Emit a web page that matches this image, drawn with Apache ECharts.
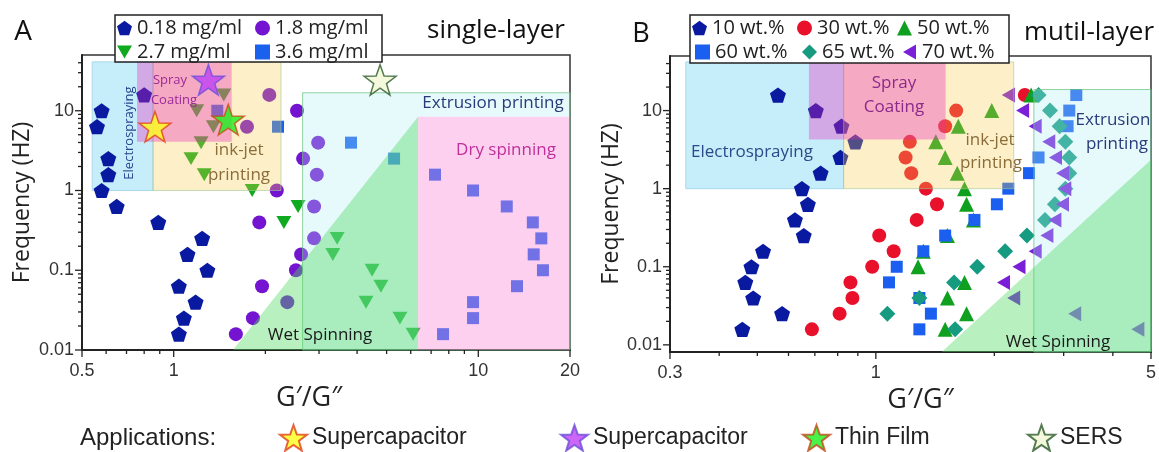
<!DOCTYPE html>
<html><head><meta charset="utf-8">
<script src="https://cdn.jsdelivr.net/npm/echarts@6/dist/echarts.min.js"></script>
<style>html,body{margin:0;padding:0;background:#fff}#c{width:1159px;height:452px}</style>
</head><body><div id="c"></div>
<script>
// ---------- tick labels ----------
const xTicksA = [0.5, 1, 10, 20];
const xTicksB = [0.3, 1, 5];
const yTicks = [0.01, 0.1, 1, 10];
const xMinorA = [0.6, 0.7, 0.8, 0.9, 2, 3, 4, 5, 6, 7, 8, 9];
const xMinorB = [0.4, 0.5, 0.6, 0.7, 0.8, 0.9, 2, 3, 4];
const yMinor = [0.02,0.03,0.04,0.05,0.06,0.07,0.08,0.09,0.2,0.3,0.4,0.5,0.6,0.7,0.8,0.9,2,3,4,5,6,7,8,9,20,30,40];

// ---------- frequencies (Hz) ----------
const freq = [15.8, 10, 6.31, 3.98, 2.51, 1.58, 1, 0.631, 0.398, 0.251, 0.158, 0.1, 0.0631, 0.0398, 0.0251, 0.0158];

// ---------- Panel A (single-layer) ----------
const a018X = [0.80, 0.58, 0.56, 0.61, 0.61, 0.58, 0.65, 0.89, 1.24, 1.11, 1.29, 1.04, 1.18, 1.08, 1.04];
const a018Y = [15.8, 10, 6.31, 2.51, 1.58, 1, 0.631, 0.398, 0.251, 0.158, 0.1, 0.0631, 0.0398, 0.0251, 0.0158];
const a18X  = [2.06, 2.54, 1.74, 2.98, 2.66, 2.95, 2.18, 2.89, 1.91, 2.89, 2.62, 2.52, 1.95, 2.36, 1.82, 1.60];
const a27X  = [1.46, 1.19, 1.35, 1.23, 1.14, 1.26, 1.81, 2.56, 2.30, 3.44, 3.33, 4.48, 4.79, 4.28, 5.53, 6.11];
const a36X  = [1.39, 2.20, 3.82, 5.29, 7.21, 9.61, 12.4, 15.1, 16.1, 15.2, 16.3, 13.4, 9.61, 9.61, 7.66];
const a36Y  = [10, 6.31, 3.98, 2.51, 1.58, 1, 0.631, 0.398, 0.251, 0.158, 0.1, 0.0631, 0.0398, 0.0251, 0.0158];

// application stars in panel A
const appIds = ['app-supercap-1', 'app-supercap-2', 'app-thinfilm', 'app-sers'];
const appLabels = ['Supercapacitor', 'Supercapacitor', 'Thin Film', 'SERS'];
const appX = [0.868, 1.30, 1.51, 4.76];
const appY = [6.3, 24.4, 7.7, 24.4];

// ---------- Panel B (multi-layer) ----------
const b10X = [0.564,0.704,0.818,0.887,0.813,0.724,0.649,0.672,0.623,0.656,0.517,0.483,0.466,0.488,0.578,0.458];
const b30X = [2.39,1.60,1.50,1.22,1.19,1.23,1.34,1.43,1.27,1.02,1.11,0.979,0.862,0.872,0.809,0.688];
const b50X = [2.48,1.97,1.62,1.42,1.50,1.61,1.68,1.70,1.77,1.52,1.32,1.28,1.68,1.52,1.70,1.50];
const b60X = [3.23,3.10,3.07,2.59,2.45,2.17,2.03,1.78,1.50,1.32,1.13,1.08,1.29,1.38,1.29];
const b60Y = [15.8,10,6.31,2.51,1.58,1,0.631,0.398,0.251,0.158,0.1,0.0631,0.0398,0.0251,0.0158];
const b65X = [2.59,2.77,2.93,3.03,3.10,3.10,3.03,2.85,2.69,2.42,2.13,1.81,1.58,1.29,1.07,1.59];
const b70X = [2.17,2.36,2.54,2.75,2.86,2.98,3.02,2.98,2.85,2.72,2.54,2.31,2.11,2.24,3.20,4.63];

// ---------- processing windows (x0, x1, y0, y1) in data units ----------
const electroA = [0.54, 0.855, 1, 41];
const inkjetA  = [0.855, 2.25, 1, 41];
const sprayA   = [0.758, 1.55, 4.1, 41];
const extrudeA = [2.65, 20, 0.01, 16.8];
const dryA     = [6.34, 20, 0.01, 8.4];
const wetA     = [[1.566, 0.01], [6.34, 8.4], [6.34, 0.01]];
const electroB = [0.329, 0.828, 1, 42];
const inkjetB  = [0.828, 2.24, 1, 42];
const sprayB   = [0.676, 1.504, 4.25, 42];
const extrudeB = [2.52, 5, 0.0081, 18.6];
const wetB     = [[1.47, 0.0081], [5, 2.35], [5, 0.0081]];

// ---------- helpers ----------
const FONT = '"Open Sans", "DejaVu Sans", sans-serif';
const APPF = '"Liberation Sans", Arial, sans-serif';
const pentagon = 'path://M50,0L97.6,34.5L79.4,90.5L20.6,90.5L2.4,34.5Z';
const star = 'path://M50,0L61.8,33.8L97.6,34.5L69,56.2L79.4,90.5L50,70L20.6,90.5L31,56.2L2.4,34.5L38.2,33.8Z';
const triDown = 'path://M0,0L100,0L50,86.6Z';
const triLeft = 'path://M0,50L86.6,0L86.6,100Z';
const zip = (xs, ys) => xs.map((x, i) => [x, ys[i]]);
const rectPts = r => [[r[0], r[2]], [r[1], r[2]], [r[1], r[3]], [r[0], r[3]]];
// extrusion window minus the dry-spinning window (so that window keeps its own tint)
const notch = (e, d) => [[e[0], e[2]], [d[0], e[2]], [d[0], d[3]], [e[1], d[3]], [e[1], e[3]], [e[0], e[3]]];

function region(gi, pts, fill, stroke, z) {
  return {
    type: 'custom', xAxisIndex: gi, yAxisIndex: gi, silent: true, z: z,
    data: [pts[0]],
    renderItem: (p, api) => ({
      type: 'polygon',
      shape: { points: pts.map(q => api.coord(q)) },
      style: { fill: fill, stroke: stroke || 'none', lineWidth: 1 }
    })
  };
}
function ticks(gi, axis, vals, edge, len) {
  return {
    type: 'custom', xAxisIndex: gi, yAxisIndex: gi, silent: true, clip: false, z: 6,
    data: vals.map(v => axis === 'x' ? [v, edge] : [edge, v]),
    renderItem: (p, api) => {
      const c = api.coord([api.value(0), api.value(1)]);
      const s = axis === 'x' ? { x1: c[0], y1: c[1], x2: c[0], y2: c[1] + len }
                             : { x1: c[0] - len, y1: c[1], x2: c[0], y2: c[1] };
      return { type: 'line', shape: s, style: { stroke: '#222', lineWidth: 1.3 } };
    }
  };
}
function fmt(list) {
  return v => {
    const m = list.find(t => Math.abs(Math.log10(v) - Math.log10(t)) < 1e-6);
    return m === undefined ? '' : String(m);
  };
}
function scatter(gi, name, data, symbol, size, color) {
  return {
    type: 'scatter', name: name, xAxisIndex: gi, yAxisIndex: gi, data: data,
    symbol: symbol, symbolSize: size, symbolKeepAspect: true,
    itemStyle: { color: color, opacity: 1 }, z: 2, silent: true
  };
}

const axisLine = { lineStyle: { color: '#222', width: 2 } };
const tickLabel = { fontSize: 18, color: '#333', fontFamily: APPF };

function xAxis(gi, min, max, labels, pad) {
  return {
    type: 'log', logBase: 10, gridIndex: gi, min: min, max: max,
    axisLine: axisLine, axisTick: { show: false }, splitLine: { show: false }, minorTick: { show: false },
    axisLabel: Object.assign({ formatter: fmt(labels), margin: 12, hideOverlap: false }, tickLabel),
    name: 'G\u2032/G\u2033', nameLocation: 'middle', nameGap: 32,
    nameTextStyle: { fontSize: 27, color: '#222', fontFamily: FONT, padding: pad }
  };
}
function yAxis(gi, min, gap) {
  return {
    type: 'log', logBase: 10, gridIndex: gi, min: min, max: 50,
    axisLine: axisLine, axisTick: { show: false }, splitLine: { show: false }, minorTick: { show: false },
    axisLabel: Object.assign({ formatter: fmt(yTicks), margin: 8, hideOverlap: false }, tickLabel),
    name: 'Frequency (HZ)', nameLocation: 'middle', nameGap: gap,
    nameTextStyle: { fontSize: 23, color: '#222', fontFamily: FONT }
  };
}

// colours for the windows
const C = {
  electro: '#c6eefa', electroLine: '#a9d9ea',
  inkjet: 'rgba(248,202,72,0.30)', inkjetLine: 'rgba(160,200,150,0.6)',
  spray: 'rgba(232,40,186,0.35)',
  extrude: 'rgba(172,238,245,0.30)', extrudeLine: 'rgba(110,195,130,0.75)',
  wet: 'rgba(78,217,98,0.40)',
  dry: 'rgba(250,137,217,0.40)'
};
const appStyles = [
  { color: '#ffff1a', borderColor: '#e0401a', borderWidth: 1.5 },
  { color: '#c040f4', borderColor: '#6a50d8', borderWidth: 1.5 },
  { color: '#1aef1a', borderColor: '#c84818', borderWidth: 1.5 },
  { color: '#f2f8d2', borderColor: '#2a5a2a', borderWidth: 1.5 }
];

const series = [
  region(0, rectPts(electroA), C.electro, C.electroLine, 1),
  region(1, rectPts(electroB), C.electro, C.electroLine, 1),
  scatter(0, '0.18 mg/ml', zip(a018X, a018Y), pentagon, 16, '#0a1aa0'),
  scatter(0, '1.8 mg/ml', zip(a18X, freq), 'circle', 14, '#7414d0'),
  scatter(0, '2.7 mg/ml', zip(a27X, freq), triDown, 15, '#10aa20'),
  scatter(0, '3.6 mg/ml', zip(a36X, a36Y), 'rect', 12, '#1a62ee'),
  scatter(1, '10 wt.%', zip(b10X, freq), pentagon, 16, '#0a1aa0'),
  scatter(1, '30 wt.%', zip(b30X, freq), 'circle', 14, '#e8102a'),
  scatter(1, '50 wt.%', zip(b50X, freq), 'triangle', 15, '#10a020'),
  scatter(1, '60 wt.%', zip(b60X, b60Y), 'rect', 12, '#1a5ff0'),
  scatter(1, '65 wt.%', zip(b65X, freq), 'diamond', 16, '#169a80'),
  scatter(1, '70 wt.%', zip(b70X, freq), triLeft, 15, '#7a1ed8'),
  region(0, rectPts(inkjetA), C.inkjet, C.inkjetLine, 3),
  region(0, notch(extrudeA, dryA), C.extrude, null, 3),
  region(0, rectPts(extrudeA), 'none', C.extrudeLine, 3),
  region(0, wetA, C.wet, null, 3),
  region(0, rectPts(dryA), C.dry, null, 3),
  region(0, rectPts(sprayA), C.spray, null, 3),
  region(1, rectPts(inkjetB), C.inkjet, C.inkjetLine, 3),
  region(1, rectPts(extrudeB), C.extrude, C.extrudeLine, 3),
  region(1, wetB, C.wet, null, 3),
  region(1, rectPts(sprayB), C.spray, null, 3),
  ticks(0, 'x', xTicksA, 0.01, 7), ticks(0, 'x', xMinorA, 0.01, 4),
  ticks(0, 'y', yTicks, 0.5, 7), ticks(0, 'y', yMinor, 0.5, 4),
  ticks(1, 'x', xTicksB, 0.0081, 7), ticks(1, 'x', xMinorB, 0.0081, 4),
  ticks(1, 'y', yTicks, 0.3, 7), ticks(1, 'y', yMinor, 0.3, 4)
];
// application stars: one series each so the bottom legend can show them
appIds.forEach((id, i) => series.push({
  type: 'scatter', name: id, xAxisIndex: 0, yAxisIndex: 0, z: 5, silent: true,
  symbol: star, symbolKeepAspect: true, symbolSize: 32,
  itemStyle: appStyles[i], data: [[appX[i], appY[i]]]
}));

function legendItem(name, left, top) {
  return {
    data: [name], left: left, top: top, orient: 'horizontal',
    itemWidth: 15, itemHeight: 15, itemGap: 0, padding: 0, selectedMode: false, z: 12,
    textStyle: { fontSize: 20, color: '#222', fontFamily: FONT }
  };
}
function appLegend(i, left) {
  return {
    data: [appIds[i]], left: left, top: 424, padding: 0, selectedMode: false,
    itemWidth: 27, itemHeight: 27, itemGap: 0,
    formatter: () => appLabels[i],
    textStyle: { fontSize: 23, color: '#222', fontFamily: APPF }
  };
}

const txt = (text, x, y, size, color, extra) => Object.assign({
  type: 'text', x: x, y: y, z: 20,
  style: { text: text, fontSize: size, fontFamily: FONT, fill: color,
           align: 'center', verticalAlign: 'middle', textAlign: 'center', textVerticalAlign: 'middle' }
}, extra || {});

const option = {
  animation: false,
  backgroundColor: '#fff',
  grid: [
    { left: 82, top: 55, width: 488, height: 295, show: true, borderColor: '#333', borderWidth: 1.5, backgroundColor: 'transparent' },
    { left: 670, top: 56, width: 485, height: 296, show: true, borderColor: '#333', borderWidth: 1.5, backgroundColor: 'transparent' }
  ],
  xAxis: [xAxis(0, 0.5, 20, xTicksA, [0, 34, 0, 0]), xAxis(1, 0.3, 5, xTicksB, [0, 0, 0, 20])],
  yAxis: [yAxis(0, 0.01, 48), yAxis(1, 0.0081, 44)],
  legend: [
    legendItem('0.18 mg/ml', 117, 18), legendItem('1.8 mg/ml', 255, 18),
    legendItem('2.7 mg/ml', 117, 42), legendItem('3.6 mg/ml', 255, 42),
    legendItem('10 wt.%', 692, 18), legendItem('30 wt.%', 797, 18), legendItem('50 wt.%', 897, 18),
    legendItem('60 wt.%', 695, 42), legendItem('65 wt.%', 802, 42), legendItem('70 wt.%', 903, 42),
    appLegend(0, 279), appLegend(1, 560), appLegend(2, 802), appLegend(3, 1027)
  ],
  graphic: [
    { type: 'rect', z: 10, shape: { x: 115, y: 15, width: 267, height: 47 }, style: { fill: '#fff', stroke: '#222', lineWidth: 1.5 } },
    { type: 'rect', z: 10, shape: { x: 690, y: 15, width: 319, height: 48 }, style: { fill: '#fff', stroke: '#222', lineWidth: 1.5 } },
    txt('A', 23, 32, 28, '#111'),
    txt('single-layer', 496, 31, 26, '#111'),
    txt('B', 641, 34, 27, '#111'),
    txt('mutil-layer', 1089, 33, 26, '#111'),
    txt('Electrospraying', 129, 133, 13, '#2a4590', { rotation: Math.PI / 2 }),
    txt('Spray', 170, 80, 13, '#9a2a9a'),
    txt('Coating', 174, 100, 13, '#9a2a9a'),
    txt('ink-jet', 239, 150, 17, '#8b6d3a'),
    txt('printing', 239, 175, 17, '#8b6d3a'),
    txt('Extrusion printing', 493, 103, 17, '#283a7a'),
    txt('Dry spinning', 506, 150, 17, '#c0309a'),
    txt('Wet Spinning', 320, 335, 17, '#1a1a1a'),
    txt('Electrospraying', 752, 152, 17, '#2a4a8a'),
    txt('Spray', 894, 83, 17, '#8a2a8a'),
    txt('Coating', 894, 107, 17, '#8a2a8a'),
    txt('ink-jet', 990, 140, 17, '#8b6d3a'),
    txt('printing', 991, 163, 17, '#8b6d3a'),
    txt('Extrusion', 1113, 120, 17, '#283a7a'),
    txt('printing', 1117, 144, 17, '#283a7a'),
    txt('Wet Spinning', 1058, 342, 17, '#1a1a1a'),
    { type: 'text', x: 80, y: 438, z: 20,
      style: { text: 'Applications:', fontSize: 24, fontFamily: APPF, fill: '#222',
               align: 'left', verticalAlign: 'middle', textAlign: 'left', textVerticalAlign: 'middle' } }
  ],
  series: series
};

const chart = echarts.init(document.getElementById('c'), null, { renderer: 'canvas' });
chart.setOption(option);
</script>
</body></html>
